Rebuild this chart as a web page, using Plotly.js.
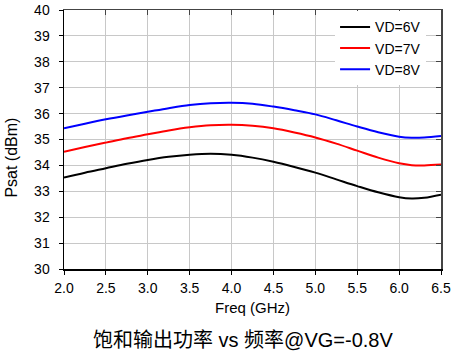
<!DOCTYPE html>
<html>
<head>
<meta charset="utf-8">
<script src="https://cdn.plot.ly/plotly-3.0.1.min.js"></script>
<style>html,body{margin:0;padding:0;background:#fff;}#chart{width:464px;height:358px;}</style>
</head>
<body>
<div id="chart"></div>
<script>
var freq = [2.0, 2.25, 2.5, 2.75, 3.0, 3.25, 3.5, 3.75, 4.0, 4.25, 4.5, 4.75, 5.0, 5.25, 5.5, 5.75, 6.0, 6.15, 6.3, 6.5];
var vd6 = [33.53, 33.72, 33.89, 34.06, 34.21, 34.33, 34.41, 34.45, 34.41, 34.30, 34.14, 33.94, 33.72, 33.46, 33.20, 32.96, 32.77, 32.72, 32.75, 32.87];
var vd7 = [34.53, 34.71, 34.88, 35.05, 35.20, 35.35, 35.47, 35.55, 35.57, 35.53, 35.43, 35.27, 35.08, 34.84, 34.57, 34.30, 34.08, 34.01, 34.00, 34.03];
var vd8 = [35.43, 35.61, 35.78, 35.93, 36.07, 36.21, 36.33, 36.40, 36.42, 36.38, 36.27, 36.13, 35.97, 35.74, 35.50, 35.28, 35.11, 35.07, 35.08, 35.14];
var seriesNames = ["VD=6V", "VD=7V", "VD=8V"];
var seriesColors = ["#000000", "#ff0000", "#0000ff"];
var xTicks = [2.0, 2.5, 3.0, 3.5, 4.0, 4.5, 5.0, 5.5, 6.0, 6.5];
var yTicks = [30, 31, 32, 33, 34, 35, 36, 37, 38, 39, 40];
var xTitle = "Freq (GHz)";
var yTitle = "Psat (dBm)";
var chartTitle = "饱和输出功率 vs 频率@VG=-0.8V";

var ys = [vd6, vd7, vd8];
var traces = ys.map(function (y, i) {
  return {
    x: freq, y: y, type: "scatter", mode: "lines", name: seriesNames[i],
    line: {color: seriesColors[i], width: 2, shape: "spline", smoothing: 1}
  };
});

var fam = "Liberation Sans, Arial, sans-serif";
var fnt = {family: fam, size: 14, color: "#000"};
var layout = {
  width: 464, height: 358,
  margin: {l: 64, r: 23, t: 10, b: 89},
  paper_bgcolor: "#fff", plot_bgcolor: "#fff",
  font: fnt,
  showlegend: true,
  legend: {x: 0.719, y: 0.995, xanchor: "left", yanchor: "top", bgcolor: "rgba(255,255,255,1)",
           borderwidth: 0, font: fnt, tracegroupgap: 0},
  xaxis: {
    range: [2.0, 6.5], tickvals: xTicks, ticktext: xTicks.map(function(v){return v.toFixed(1);}),
    showgrid: true, gridcolor: "#c8c8c8", gridwidth: 1,
    showline: true, linecolor: "#000", linewidth: 1.5,
    ticks: "outside", ticklen: 4, tickcolor: "#000", zeroline: false,
    tickfont: fnt, ticklabelstandoff: 2
  },
  yaxis: {
    range: [30, 40], tickvals: yTicks,
    showgrid: true, gridcolor: "#c8c8c8", gridwidth: 1,
    showline: true, linecolor: "#000", linewidth: 1.5,
    ticks: "outside", ticklen: 4, tickcolor: "#000", zeroline: false,
    tickfont: fnt, ticklabelstandoff: 6
  },
  xaxis2: {
    overlaying: "x", side: "top", range: [2.0, 6.5], tickvals: xTicks, showticklabels: false,
    showgrid: false, showline: true, linecolor: "#444", linewidth: 1.5,
    ticks: "inside", ticklen: 5, tickcolor: "#444", zeroline: false
  },
  yaxis2: {
    overlaying: "y", side: "right", range: [30, 40], tickvals: yTicks, showticklabels: false,
    showgrid: false, showline: true, linecolor: "#444", linewidth: 1.5,
    ticks: "inside", ticklen: 5, tickcolor: "#444", zeroline: false
  },
  annotations: [
    {text: xTitle, xref: "paper", yref: "paper", x: 0.5, y: -0.147, xanchor: "center", yanchor: "middle",
     showarrow: false, font: {family: fam, size: 15, color: "#000"}},
    {text: yTitle, xref: "paper", yref: "paper", x: -0.138, y: 0.43, xanchor: "center", yanchor: "middle",
     textangle: -90, showarrow: false, font: {family: fam, size: 16, color: "#000"}},
    {text: chartTitle, xref: "paper", yref: "paper", x: 0.475, y: -0.274,
     xanchor: "center", yanchor: "middle", showarrow: false,
     font: {family: "Liberation Sans, Noto Sans CJK SC, sans-serif", size: 20, color: "#000"}}
  ]
};

// invisible helper trace so overlay axes are drawn
traces.push({x: [2.0], y: [30], xaxis: "x2", yaxis: "y2", type: "scatter", mode: "markers",
  marker: {opacity: 0}, showlegend: false, hoverinfo: "skip"});

Plotly.newPlot("chart", traces, layout, {staticPlot: true, displayModeBar: false});
</script>
</body>
</html>
